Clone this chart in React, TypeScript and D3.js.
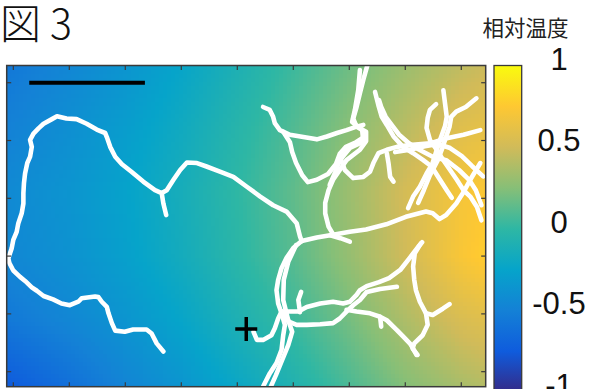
import { useMemo } from 'react';
import * as d3 from 'd3';

// plot + colorbar placement (px)
const W = 590;
const H = 389;
const plot = { left: 6.7, right: 485.7, top: 65.5, bottom: 386.7 };
const cbar = { left: 494, right: 521.7, top: 65.5, bottom: 392 };

// axis extents in track units (tick = 10)
const xExtent = [-1.18, 84.36];
const yExtent = [-2.98, 52.6];
const xTicks = [0, 10, 20, 30, 40, 50, 60, 70, 80];
const yTicks = [0, 10, 20, 30, 40, 50];

const cbTicks = [1, 0.5, 0, -0.5, -1];
const cbLabels = ['1', '0.5', '0', '-0.5', '-1'];

const title = '図 3';
const cbTitle = '相対温度';

const parula = ['#352a87', '#0f5cdd', '#1481d6', '#06a4ca', '#2eb7a4', '#87bf77', '#d1bb59', '#fec832', '#f9fb0e'];

// relative temperature read at sample points (rows = gridY, cols = gridX)
const gridX = [-1.2, 10, 20, 30, 40, 50, 60, 70, 80, 84.4];
const gridY = [-3, 8, 19, 30, 41, 52.7];
const tempGrid = [
  [-0.56, -0.46, -0.36, -0.24, -0.1, 0.04, 0.18, 0.32, 0.44, 0.48],
  [-0.5, -0.4, -0.3, -0.18, -0.04, 0.1, 0.26, 0.42, 0.58, 0.62],
  [-0.44, -0.36, -0.26, -0.14, 0.0, 0.14, 0.32, 0.52, 0.7, 0.74],
  [-0.46, -0.38, -0.28, -0.16, -0.02, 0.12, 0.3, 0.5, 0.72, 0.78],
  [-0.56, -0.46, -0.36, -0.24, -0.1, 0.04, 0.2, 0.38, 0.54, 0.58],
  [-0.76, -0.62, -0.48, -0.36, -0.22, -0.08, 0.08, 0.24, 0.36, 0.4],
];

// worm tracks [x, y] (y grows downward)
const trackLoop = [[26.8,46.5],[25.6,45.1],[24.7,43.4],[23.8,42.7],[21.4,42.7],[19.9,43.1],[18.2,42.9],[17.6,41.6],[17.0,39.9],[16.7,38.8],[15.8,37.9],[15.2,37.1],[14.6,37.0],[12.2,37.3],[11.6,37.9],[10.1,38.5],[8.6,38.2],[7.1,37.5],[5.4,36.9],[4.2,36.0],[3.3,35.4],[2.1,34.3],[1.2,33.6],[0,32.5],[-0.7,31.2],[-0.9,30.4],[-0.3,28.7],[0,27.2],[0.6,25.8],[0.9,24.3],[1.5,22.6],[1.8,20.9],[1.8,19.1],[1.9,17.4],[2.1,15.7],[2.5,13.9],[3.0,12.8],[3.3,11.1],[3.0,9.9],[3.6,8.8],[4.5,7.9],[5.4,7.1],[6.9,6.3],[7.8,5.8],[9.5,6.2],[11.3,6.3],[13.1,7.1],[14.9,8.1],[16.4,8.7],[16.7,9.4],[17.3,11.1],[18.2,12.8],[19.4,14.1],[21.1,15.4],[23.2,17.1],[25.3,18.6],[26.5,19.1],[26.8,20.9],[27.3,22.9]];
const trackMid = [[26.5,19.1],[27.4,18.6],[28.6,16.8],[29.8,15.1],[31.0,13.8],[32.8,13.9],[34.5,14.5],[36.9,15.4],[39.3,16.3],[41.7,18.0],[44.1,19.7],[46.4,21.2],[48.8,22.3],[50.6,24.3],[51.2,26.6],[51.5,27.4]];
const trackMain = [[51.5,27.4],[54.2,26.8],[57.1,26.3],[60.1,25.8],[63.0,25.4],[66.6,24.5],[70.1,23.2],[73.7,22.3],[74.9,22.6],[76.1,23.6],[77.3,22.9],[79.1,20.9],[80.3,19.1],[81.6,16.8],[83.4,13.9]];
const trackMainTail = [[56.6,26.4],[58.4,26.9],[60.1,27.5]];
const trackDownA = [[51.5,27.4],[50.0,28.6],[48.8,30.3],[47.9,32.1],[47.3,34.1],[47.0,35.9],[47.3,38.2],[47.9,39.9],[48.5,41.9],[48.2,43.7],[47.9,46.2],[47.0,48.5],[45.8,50.3],[44.9,52.0],[44.4,53.0]];
const trackDownB = [[50.5,28.1],[49.1,31.0],[48.3,34.1],[48.2,37.6],[49.1,41.1],[49.8,43.1],[49.1,45.4],[48.0,48.0],[46.9,50.6],[45.8,53.0]];
const trackStart = [[42.9,43.1],[43.5,44.5],[44.6,44.5],[46.1,43.7],[46.7,42.5],[47.3,40.8],[47.9,39.6],[49.1,41.3],[50.6,41.9],[52.4,41.9],[54.8,41.8],[57.1,41.6],[58.3,40.8],[59.5,39.6],[60.7,38.5],[61.9,37.6],[63.1,36.2],[65.5,35.7],[68.5,35.3]];
const trackUpper = [[47.9,39.6],[50.9,39.6],[52.4,38.8],[54.8,38.2],[57.1,37.9],[58.9,38.2],[60.1,37.9],[61.3,36.7],[61.9,35.9],[63.1,35.2],[65.3,34.5],[67.1,33.8],[69.1,32.4],[70.8,30.3],[72.3,28.4],[73.0,27.6]];
const trackUpperTail = [[51.2,39.7],[50.9,37.6],[51.4,36.2]];
const trackLow = [[59.5,39.3],[61.3,39.6],[63.7,39.9],[65.5,40.5],[66.7,41.1],[68.5,42.8],[69.6,43.9],[70.8,45.1],[71.4,46.0],[72.0,47.1]];
const trackLowTail = [[65.5,40.5],[65.7,42.2]];
const trackHook = [[72.8,27.8],[71.7,29.5],[71.4,31.8],[71.6,34.1],[71.9,35.9],[72.6,37.9],[73.7,39.9],[74.9,40.2],[76.7,39.1],[77.9,38.3]];
const trackHookDown = [[73.7,39.9],[74.0,41.9],[73.1,43.7],[71.6,45.1],[71.3,46.0],[72.2,47.1]];
const trackArc = [[44.6,4.2],[45.8,4.7],[46.4,5.9],[46.7,7.0],[47.6,8.2],[49.4,9.0],[51.8,9.4],[54.2,9.8],[56.0,9.3],[57.8,8.7],[59.5,8.2],[61.3,7.6],[62.5,7.3]];
const trackArcDown = [[48.2,8.5],[49.4,10.3],[49.8,12.0],[50.5,13.9],[51.6,16.0],[52.6,17.2],[54.2,16.8],[56.2,15.8],[57.6,14.1],[58.3,12.3],[59.4,11.1],[61.2,10.3],[62.6,9.4]];
const trackRight = [[58.3,12.7],[59.2,15.1],[60.7,16.5],[62.5,16.3],[63.7,15.4],[64.3,13.9],[65.2,12.2],[66.7,11.6],[68.5,11.1],[70.8,10.8],[74.4,10.5],[77.4,9.6],[80.4,9.0],[83.4,8.2]];
const trackRightTail = [[66.7,12.2],[67.0,13.9],[67.3,16.3],[67.9,17.1]];
const trackV1 = [[63.2,-2.9],[62.5,-0.5],[61.9,1.8],[61.3,4.2],[60.7,6.2],[61.3,7.6],[63.0,8.5],[63.0,10.1],[61.9,11.6],[59.5,13.4],[58.3,15.1],[57.1,16.8],[56.3,18.6],[55.7,20.8],[55.7,22.6],[56.3,24.9],[57.1,26.2]];
const trackV2 = [[61.9,-2.2],[61.6,1.3],[61.0,4.7],[60.5,6.8],[62.3,8.2],[62.5,10.2],[60.1,11.3],[58.3,13.4],[57.4,15.7],[56.5,17.7]];
const trackR1 = [[64.6,1.6],[65.2,3.9],[65.8,5.9],[66.7,7.3],[67.9,9.3],[69.6,11.1],[71.4,12.2],[73.2,13.4],[74.7,14.5],[76.2,16.8],[77.4,18.6],[78.3,19.9]];
const trackR1b = [[65.3,3.0],[65.7,4.2],[66.5,5.9],[67.8,7.6],[68.9,9.0],[70.7,10.5],[72.5,11.6],[74.9,12.8],[77.3,13.4],[79.6,15.1],[81.4,16.8],[82.6,18.6],[83.6,21.2]];
const trackR2 = [[76.8,1.3],[77.1,3.6],[77.4,5.9],[77.1,7.5],[76.2,9.9],[75.5,12.0],[74.8,14.1],[73.8,15.7],[72.6,18.0],[71.4,19.7],[70.5,21.7]];
const trackR3 = [[82.7,2.7],[80.8,4.2],[79.1,5.0],[78.2,5.9],[77.9,7.6],[77.3,9.3],[76.7,11.1],[75.8,13.4],[74.4,16.0],[73.3,18.6],[72.3,20.8]];
const trackR4 = [[83.6,23.8],[82.8,21.5],[81.6,19.7],[80.4,18.6],[79.2,16.8],[78.0,15.1],[76.8,13.4],[75.6,11.6],[74.4,9.9],[73.8,7.8],[74.0,6.1],[74.4,4.7],[75.5,3.7]];
const trackR5 = [[83.9,16.2],[81.9,14.4],[80.1,12.7],[78.0,11.3],[75.8,10.6],[73.5,11.0],[70.8,11.6],[68.2,12.0]];

const tracks = [
  trackLoop, trackMid, trackMain, trackMainTail, trackDownA, trackDownB, trackStart,
  trackUpper, trackUpperTail, trackLow, trackLowTail, trackHook, trackHookDown,
  trackArc, trackArcDown, trackRight, trackRightTail, trackV1, trackV2,
  trackR1, trackR1b, trackR2, trackR3, trackR4, trackR5,
];

const scaleBar = [[2.85, 0], [23.5, 0]];
const startPoint = [41.6, 42.6];

function sampleTemp(xv: number, yv: number) {
  const ci = Math.max(0, Math.min(gridX.length - 2, d3.bisectRight(gridX, xv) - 1));
  const ri = Math.max(0, Math.min(gridY.length - 2, d3.bisectRight(gridY, yv) - 1));
  const tx = Math.max(0, Math.min(1, (xv - gridX[ci]) / (gridX[ci + 1] - gridX[ci])));
  const ty = Math.max(0, Math.min(1, (yv - gridY[ri]) / (gridY[ri + 1] - gridY[ri])));
  const top = tempGrid[ri][ci] * (1 - tx) + tempGrid[ri][ci + 1] * tx;
  const bot = tempGrid[ri + 1][ci] * (1 - tx) + tempGrid[ri + 1][ci + 1] * tx;
  return top * (1 - ty) + bot * ty;
}

export default function App() {
  const x = d3.scaleLinear().domain(xExtent).range([plot.left, plot.right]);
  const y = d3.scaleLinear().domain(yExtent).range([plot.top, plot.bottom]);
  const cb = d3.scaleLinear().domain([-1, 1]).range([cbar.bottom, cbar.top]);
  const color = d3.scaleLinear<string>()
    .domain(parula.map((_, i) => -1 + (2 * i) / (parula.length - 1)))
    .range(parula)
    .interpolate(d3.interpolateRgb)
    .clamp(true);

  const line = d3.line<number[]>().x((d) => x(d[0])).y((d) => y(d[1]));

  const cells = useMemo(() => {
    const out: JSX.Element[] = [];
    const step = 4;
    for (let py = plot.top; py < plot.bottom; py += step) {
      for (let px = plot.left; px < plot.right; px += step) {
        const v = sampleTemp(x.invert(px + step / 2), y.invert(py + step / 2));
        out.push(
          <rect key={`${px}-${py}`} x={px} y={py} width={step + 0.3} height={step + 0.3} fill={color(v)} />
        );
      }
    }
    return out;
  }, []);

  const axisColor = '#3a3a3a';
  const tl = 4.5;

  return (
    <svg width={W} height={H} style={{ position: 'absolute', left: 0, top: 0, background: '#fff' }}>
      <defs>
        <clipPath id="plotClip">
          <rect x={plot.left} y={plot.top} width={plot.right - plot.left} height={plot.bottom - plot.top} />
        </clipPath>
        <linearGradient id="cbGrad" x1="0" y1="1" x2="0" y2="0">
          {parula.map((c, i) => (
            <stop key={i} offset={i / (parula.length - 1)} stopColor={c} />
          ))}
        </linearGradient>
      </defs>

      <text x={0} y={38.5} fontFamily="'Noto Sans CJK JP', sans-serif" fontSize={41} fontWeight={300} fill="#111">
        {title}
      </text>

      <g clipPath="url(#plotClip)">
        <g shapeRendering="crispEdges">{cells}</g>
        {tracks.map((t, i) => (
          <path key={i} d={line(t) || ''} fill="none" stroke="#fff" strokeWidth={4.6}
            strokeLinecap="round" strokeLinejoin="round" />
        ))}
        <path d={line(scaleBar) || ''} stroke="#000" strokeWidth={4} />
        <path
          d={`M${x(startPoint[0]) - 11},${y(startPoint[1])}H${x(startPoint[0]) + 11}M${x(startPoint[0])},${y(startPoint[1]) - 12}V${y(startPoint[1]) + 12}`}
          stroke="#000" strokeWidth={3.5}
        />
      </g>

      <rect x={plot.left} y={plot.top} width={plot.right - plot.left} height={plot.bottom - plot.top}
        fill="none" stroke={axisColor} strokeWidth={1.5} />
      {xTicks.map((t) => (
        <g key={`x${t}`} stroke={axisColor} strokeWidth={1.2}>
          <line x1={x(t)} x2={x(t)} y1={plot.top} y2={plot.top + tl} />
          <line x1={x(t)} x2={x(t)} y1={plot.bottom} y2={plot.bottom - tl} />
        </g>
      ))}
      {yTicks.map((t) => (
        <g key={`y${t}`} stroke={axisColor} strokeWidth={1.2}>
          <line x1={plot.left} x2={plot.left + tl} y1={y(t)} y2={y(t)} />
          <line x1={plot.right} x2={plot.right - tl} y1={y(t)} y2={y(t)} />
        </g>
      ))}

      <rect x={cbar.left} y={cbar.top} width={cbar.right - cbar.left} height={cbar.bottom - cbar.top}
        fill="url(#cbGrad)" stroke={axisColor} strokeWidth={1.3} />
      {cbTicks.map((t, i) => (
        <text key={t} x={559} y={cb(t) + 4} textAnchor="middle"
          fontFamily="'Liberation Sans', Arial, sans-serif" fontSize={31} fill="#111">
          {cbLabels[i]}
        </text>
      ))}
      <text x={525.5} y={35.5} textAnchor="middle" fontFamily="'Noto Sans CJK JP', sans-serif" fontSize={21.5} fill="#222">
        {cbTitle}
      </text>
    </svg>
  );
}
